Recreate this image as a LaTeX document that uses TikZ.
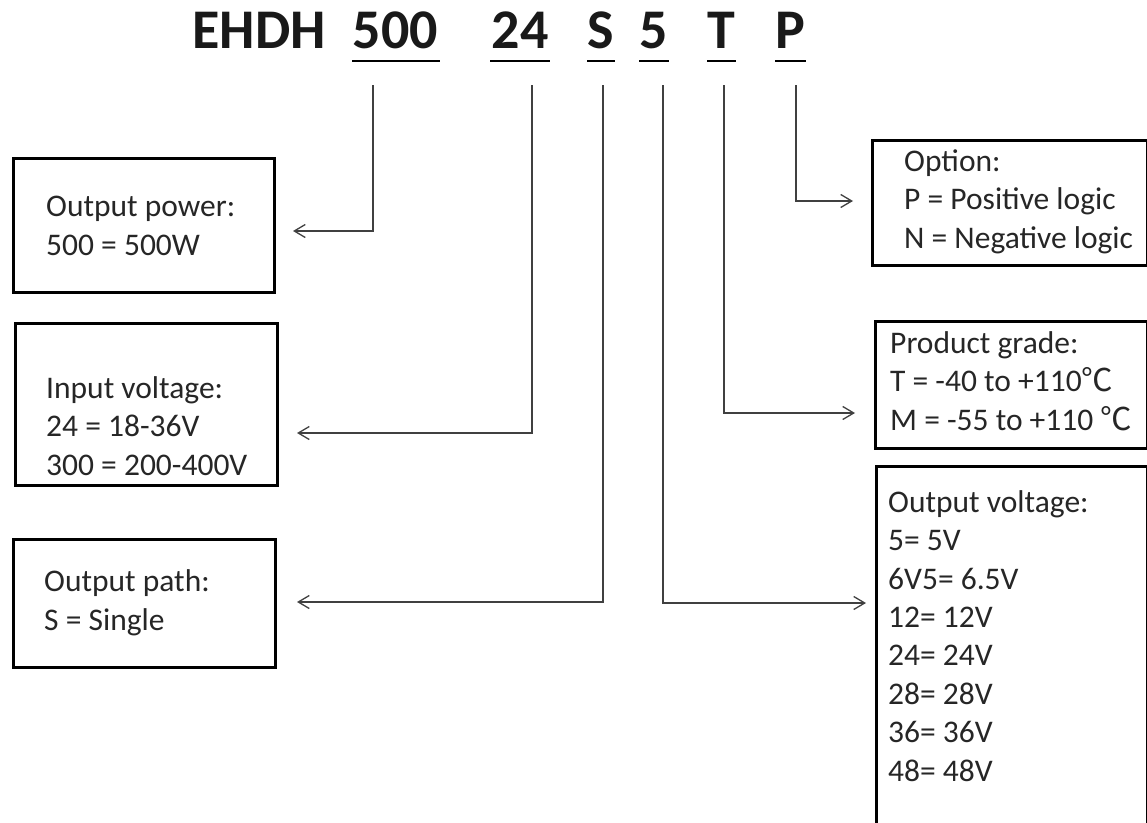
\documentclass[tikz,border=0pt]{standalone}
\usepackage{fontspec}
\setmainfont{Carlito}
\newfontfamily\cjk{Noto Sans CJK SC}
\usetikzlibrary{arrows.meta}

\tikzset{
  code/.style={font=\fontsize{56}{60}\selectfont\bfseries, anchor=base, inner sep=0pt, text=black!90},
  box/.style={draw=black, line width=3pt, inner sep=0pt, anchor=north west},
  desc/.style={font=\fontsize{31.5}{38.4}\selectfont, anchor=base west, align=left, inner sep=0pt, text=black!85},
  conn/.style={draw=black!75, line width=1.3pt, -{Straight Barb[length=11pt,width=13pt]}},
  uline/.style={line width=2pt}
}

\begin{document}
\begin{tikzpicture}[x=1pt,y=-1pt]
    \useasboundingbox (0,0) rectangle (1147,822);
    \clip (0,0) rectangle (1147,822);

    % type code
    \node[code] (series) at (259,48) {EHDH};
    \node[code] (pw) at (395.5,48) {500};
    \node[code] (vin) at (520,48) {24};
    \node[code] (out) at (600.5,48) {S};
    \node[code] (vo) at (654,48) {5};
    \node[code] (grade) at (721.5,48) {T};
    \node[code] (opt) at (790.5,48) {P};

    \draw[uline] (352,61) -- (440,61);
    \draw[uline] (490,61) -- (550,61);
    \draw[uline] (587,61) -- (615,61);
    \draw[uline] (639,61) -- (669,61);
    \draw[uline] (707,61) -- (736,61);
    \draw[uline] (775,61) -- (806,61);

    % boxes on the left (text placed by its last baseline)
    \node[box, minimum width=261pt, minimum height=134pt] (powerbox) at (11.5,156.5) {};
    \node[desc] (powertext) at (46,255) {Output power:\\500 = 500W};

    \node[box, minimum width=262pt, minimum height=162pt] (inputbox) at (13.5,321.5) {};
    \node[desc] (inputtext) at (46,475) {Input voltage:\\24 = 18-36V\\300 = 200-400V};

    \node[box, minimum width=262pt, minimum height=128pt] (pathbox) at (11.5,537.5) {};
    \node[desc] (pathtext) at (44,630) {Output path:\\S = Single};

    % boxes on the right
    \node[box, minimum width=275pt, minimum height=125pt] (optbox) at (870.5,138.5) {};
    \node[desc] (opttext) at (904,248) {Option:\\P = Positive logic\\N = Negative logic};

    \node[box, minimum width=272pt, minimum height=127pt] (gradebox) at (873.5,319.5) {};
    \node[desc] (gradetext) at (890,430) {Product grade:\\T = -40 to +110{\cjk ℃}\\M = -55 to +110 {\cjk ℃}};

    \node[box, minimum width=271pt, minimum height=400pt] (voltbox) at (874.5,464.5) {};
    \node[desc] (volttext) at (888,781) {Output voltage:\\5= 5V\\6V5= 6.5V\\12= 12V\\24= 24V\\28= 28V\\36= 36V\\48= 48V};

    % leaders
    \coordinate (pw-s) at (373,85);    \coordinate (pw-e) at (293,231);
    \coordinate (vin-s) at (532,85);   \coordinate (vin-e) at (297,433);
    \coordinate (out-s) at (603,85);   \coordinate (out-e) at (297,602);
    \coordinate (vo-s) at (663,85);    \coordinate (vo-e) at (866,603);
    \coordinate (grade-s) at (724,85); \coordinate (grade-e) at (855,413);
    \coordinate (opt-s) at (796,85);   \coordinate (opt-e) at (853,201);

    \draw[conn] (pw-s) |- (pw-e);
    \draw[conn] (vin-s) |- (vin-e);
    \draw[conn] (out-s) |- (out-e);
    \draw[conn] (vo-s) |- (vo-e);
    \draw[conn] (grade-s) |- (grade-e);
    \draw[conn] (opt-s) |- (opt-e);
\end{tikzpicture}
\end{document}
